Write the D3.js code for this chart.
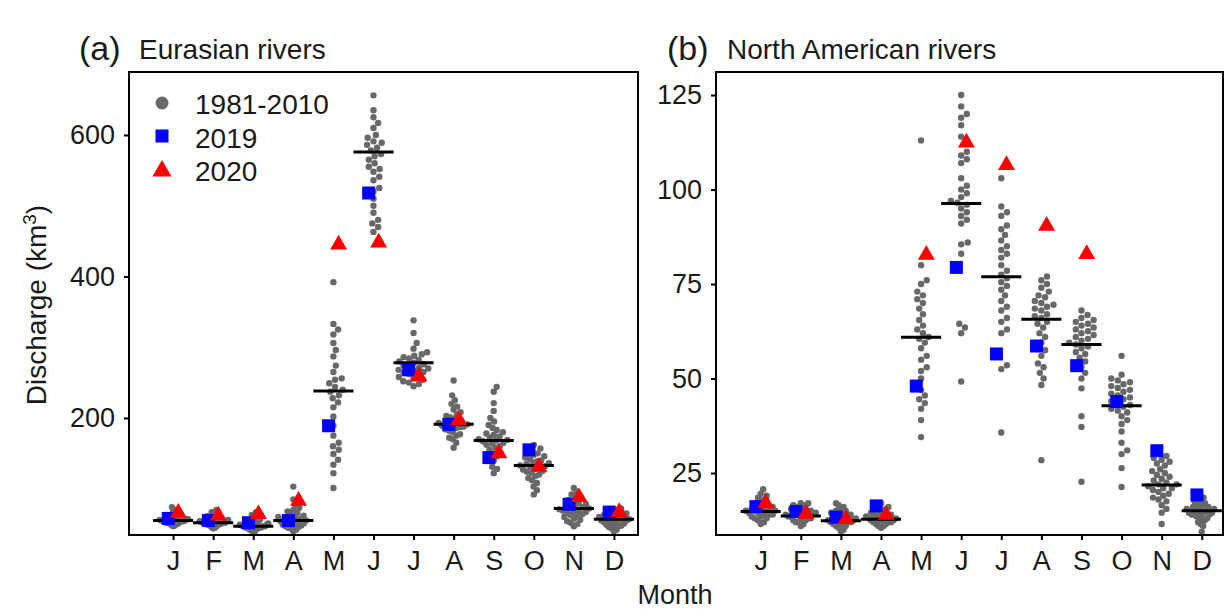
<!DOCTYPE html>
<html>
<head>
<meta charset="utf-8">
<script src="https://cdn.jsdelivr.net/npm/d3@7"></script>
<style>
  body { margin: 0; background: #fff; }
  text { font-family: "Liberation Sans", Arial, sans-serif; fill: #1a1a1a; }
</style>
</head>
<body>
<svg id="chart" width="1226" height="609"></svg>
<script>
// month labels
var months = ['J', 'F', 'M', 'A', 'M', 'J', 'J', 'A', 'S', 'O', 'N', 'D'];

// (a) Eurasian rivers, 1981-2010 monthly values (km3), one list per month
var euClim = [
  [47, 48, 49, 50, 50, 51, 52, 52, 53, 53, 54, 54, 55, 55, 55, 56, 56, 57, 57, 58, 58, 59, 60, 61, 62, 63, 65, 67, 70, 74],
  [44, 45, 46, 47, 48, 49, 49, 50, 50, 51, 51, 52, 52, 52, 53, 53, 54, 54, 55, 55, 56, 57, 58, 59, 60, 61, 63, 65, 67, 70],
  [38, 40, 41, 42, 43, 44, 44, 45, 45, 46, 46, 47, 47, 47, 48, 48, 49, 49, 50, 50, 51, 52, 53, 54, 55, 56, 58, 60, 63, 67],
  [40, 42, 44, 45, 46, 47, 48, 49, 50, 51, 52, 53, 54, 55, 55, 56, 57, 58, 59, 60, 61, 62, 64, 66, 68, 70, 73, 77, 85, 103],
  [101, 122, 134, 141, 149, 155, 160, 165, 175, 189, 202, 215, 222, 228, 232, 237, 240, 244, 249, 254, 256, 265, 274, 287, 296, 306, 318, 325, 333, 392],
  [463, 470, 475, 480, 490, 500, 510, 520, 525, 536, 541, 548, 552, 555, 560, 565, 570, 573, 578, 582, 586, 589, 591, 596, 600, 610, 617, 625, 635, 656],
  [245, 248, 250, 252, 254, 256, 258, 260, 262, 264, 265, 267, 268, 270, 271, 272, 274, 276, 278, 280, 282, 284, 286, 288, 290, 293, 298, 306, 320, 338],
  [158, 165, 170, 172, 175, 177, 180, 182, 184, 186, 187, 188, 189, 190, 191, 192, 193, 195, 197, 199, 201, 203, 205, 208, 212, 216, 220, 225, 232, 253],
  [122, 128, 131, 140, 146, 150, 155, 158, 160, 162, 164, 165, 167, 168, 169, 170, 172, 174, 176, 178, 180, 183, 186, 190, 195, 200, 210, 221, 237, 244],
  [92, 98, 103, 108, 112, 115, 118, 120, 122, 124, 125, 127, 128, 130, 131, 132, 133, 135, 136, 137, 139, 140, 142, 144, 146, 148, 150, 153, 157, 162],
  [47, 50, 52, 54, 56, 58, 60, 62, 63, 64, 66, 67, 68, 69, 70, 71, 72, 73, 74, 75, 77, 78, 80, 82, 84, 86, 88, 92, 96, 101],
  [40, 42, 44, 46, 47, 48, 49, 50, 51, 52, 53, 54, 55, 55, 56, 57, 57, 58, 59, 60, 60, 61, 62, 63, 64, 65, 66, 68, 70, 72]
];
var euMean = [55, 52, 47, 55, 238, 576, 278, 191, 168, 133, 72, 57];
var eu2019 = [58, 55, 52, 55, 189, 518, 268, 191, 144, 155, 78, 67];
var eu2020 = [66, 62, 64, 83, 445, 448, 259, 197, 150, 131, 88, 67];
var euTicks = [200, 400, 600];

// (b) North American rivers
var naClim = [
  [11.5, 12, 12.5, 13, 13, 13.5, 13.5, 14, 14, 14, 14.5, 14.5, 15, 15, 15, 15, 15.5, 15.5, 16, 16, 16, 16.5, 17, 17, 17.5, 18, 18.5, 19, 19.5, 20.7],
  [11, 11.5, 12, 12, 12.5, 12.5, 13, 13, 13, 13.5, 13.5, 13.5, 14, 14, 14, 14, 14.5, 14.5, 14.5, 15, 15, 15, 15.5, 15.5, 16, 16, 16.5, 16.5, 17, 17],
  [9.5, 10, 10.5, 11, 11, 11.5, 11.5, 12, 12, 12, 12, 12.5, 12.5, 12.5, 13, 13, 13, 13.5, 13.5, 14, 14, 14, 14.5, 14.5, 15, 15, 15.5, 16, 16.5, 17],
  [10.5, 11, 11, 11.5, 11.5, 12, 12, 12, 12.5, 12.5, 12.5, 13, 13, 13, 13, 13.5, 13.5, 13.5, 14, 14, 14, 14.5, 14.5, 15, 15, 15.5, 15.5, 16, 16, 17],
  [34.5, 39, 42, 43.5, 44.5, 45.5, 47, 50, 52, 53, 55, 56, 58, 59.5, 60.5, 61, 62, 63, 64, 65.5, 67, 68.5, 70, 71, 72, 73, 75, 76, 80, 113],
  [49.2, 62, 63.5, 64.5, 83, 85.5, 86, 91, 92, 93, 94, 95, 96, 96.5, 97, 98, 99, 100, 101, 103, 107, 108, 109, 110, 114, 117, 119, 120, 122, 125],
  [35.7, 52.5, 53.5, 62, 63, 65, 66, 68, 69, 70.5, 72, 73.5, 74.5, 75.5, 76.5, 77.5, 78.5, 80, 82, 83, 84, 85, 86.5, 88, 89.5, 90.5, 93, 94, 95.5, 103],
  [28.4, 48.3, 50, 51.5, 53, 54, 56, 57.5, 59.5, 61, 62, 63.5, 64.5, 65, 66, 66.5, 67, 68, 68.5, 69, 69.5, 70, 70.5, 71.5, 72, 73, 74, 75, 76, 77],
  [22.7, 37.2, 40, 47.4, 50, 51.5, 53, 54.5, 55.5, 56.5, 57, 58, 58.5, 59, 59.5, 60, 60.5, 61, 61.5, 62, 62.5, 63, 63.5, 64, 64.5, 65, 65.5, 66, 66.8, 68],
  [21.3, 26.3, 30, 31, 33, 36, 38, 39, 40, 41, 41.5, 42, 42.5, 43, 43.5, 44, 44.5, 45, 45.5, 46, 46.5, 47, 47.5, 48, 48.5, 49, 49.5, 50, 51, 56],
  [11.5, 14.5, 15.5, 16.5, 17.5, 18, 18.5, 19, 19.5, 20, 20.5, 21, 21, 21.5, 22, 22, 22.5, 23, 23.5, 24, 24.5, 25, 25.5, 26, 27, 27.5, 28, 28.5, 29, 29.5],
  [9.5, 11, 11.5, 12, 12.5, 13, 13, 13.5, 13.5, 14, 14, 14, 14.5, 14.5, 14.5, 15, 15, 15, 15.5, 15.5, 15.5, 16, 16, 16.5, 16.5, 17, 17, 17.5, 18, 18.5]
];
var naMean = [14.8, 13.6, 12.4, 12.8, 60.9, 96.3, 76.9, 65.7, 59, 42.8, 21.8, 15];
var na2019 = [16.1, 14.8, 13.3, 16.3, 48, 79.4, 56.5, 58.6, 53.4, 43.9, 30.9, 19.2];
var na2020 = [17, 14.2, 12.8, 13.9, 82.7, 112.4, 106.5, 90.4, 82.9, null, null, null];
var naTicks = [25, 50, 75, 100, 125];

var svg = d3.select('#chart');
svg.append('rect').attr('width', 1226).attr('height', 609).attr('fill', '#fff');

var dotR = 3.2;
var maxSpread = 15; // px, dense months get squeezed so dots overlap

// simple beeswarm: offsets in px so dots in one month don't overlap
var swarm = function(values, y) {
  var order = values.map(function(v, i) { return i; })
                    .sort(function(a, b) { return values[a] - values[b]; });
  var placed = [];
  var offs = [];
  var d = dotR * 2 + 0.4;
  order.forEach(function(i) {
    var py = y(values[i]);
    var near = placed.filter(function(p) { return Math.abs(p.y - py) < d; });
    var cands = [0];
    near.forEach(function(p) {
      var dx = Math.sqrt(d * d - (p.y - py) * (p.y - py));
      cands.push(p.x + dx, p.x - dx);
    });
    cands.sort(function(a, b) { return Math.abs(a) - Math.abs(b); });
    var px = cands.find(function(c) {
      return near.every(function(p) { return (p.x - c) * (p.x - c) + (p.y - py) * (p.y - py) >= d * d - 0.01; });
    });
    placed.push({ x: px, y: py });
    offs[i] = px;
  });
  var widest = d3.max(offs, function(o) { return Math.abs(o); });
  if (widest > maxSpread) {
    offs = offs.map(function(o) { return o * maxSpread / widest; });
  }
  return offs;
};

var drawPanel = function(p) {
  var x = d3.scaleLinear().domain(p.xDomain).range([p.left, p.right]);
  var y = d3.scaleLinear().domain(p.yDomain).range([p.bottom, p.top]);
  var g = svg.append('g');

  // climatology dots
  p.clim.forEach(function(vals, m) {
    var offs = swarm(vals, y);
    g.append('g').selectAll('circle').data(vals)
      .enter().append('circle')
      .attr('cx', function(d, i) { return x(m + 1) + offs[i]; })
      .attr('cy', function(d) { return y(d); })
      .attr('r', dotR)
      .style('fill', '#686868');
  });

  // 1981-2010 average
  g.append('g').selectAll('line').data(p.mean)
    .enter().append('line')
    .attr('x1', function(d, i) { return x(i + 1 - 0.5); })
    .attr('x2', function(d, i) { return x(i + 1 + 0.5); })
    .attr('y1', function(d) { return y(d); })
    .attr('y2', function(d) { return y(d); })
    .style('stroke', '#000').style('stroke-width', 3);

  // 2019
  g.append('g').selectAll('path').data(p.y2019)
    .enter().append('path')
    .attr('d', d3.symbol().type(d3.symbolSquare).size(169))
    .attr('transform', function(d, i) { return 'translate(' + x(i + 1 - 0.12) + ',' + y(d) + ')'; })
    .style('fill', '#0000ff');

  // 2020
  g.append('g').selectAll('path').data(p.y2020.map(function(v, i) { return { v: v, i: i }; })
      .filter(function(d) { return d.v !== null; }))
    .enter().append('path')
    .attr('d', d3.symbol().type(d3.symbolTriangle).size(125))
    .attr('transform', function(d) { return 'translate(' + x(d.i + 1 + 0.13) + ',' + y(d.v) + ')'; })
    .style('fill', '#ff0000');

  // frame
  g.append('rect')
    .attr('x', p.left).attr('y', p.top)
    .attr('width', p.right - p.left).attr('height', p.bottom - p.top)
    .style('fill', 'none').style('stroke', '#000').style('stroke-width', 2);

  var yAxis = g.append('g').attr('transform', 'translate(' + p.left + ',0)')
    .call(d3.axisLeft(y).tickValues(p.ticks).tickSize(5).tickPadding(9));
  var xAxis = g.append('g').attr('transform', 'translate(0,' + p.bottom + ')')
    .call(d3.axisBottom(x).tickValues(d3.range(1, 13))
      .tickFormat(function(d) { return months[d - 1]; })
      .tickSize(5).tickPadding(11));
  [yAxis, xAxis].forEach(function(a) {
    a.select('.domain').remove();
    a.selectAll('line').style('stroke', '#000').style('stroke-width', 2);
    a.selectAll('text').style('font-size', '27px')
      .style('font-family', '"Liberation Sans", Arial, sans-serif').style('fill', '#1a1a1a');
  });

  svg.append('text').attr('x', p.tagX).attr('y', 60).style('font-size', '34px').text(p.tag);
  svg.append('text').attr('x', p.titleX).attr('y', 59).style('font-size', '28px').text(p.title);
};

drawPanel({
  left: 129, right: 638, top: 72, bottom: 535,
  xDomain: [-0.1, 12.6], yDomain: [34.6, 689],
  ticks: euTicks, clim: euClim, mean: euMean, y2019: eu2019, y2020: eu2020,
  tag: '(a)', tagX: 79, title: 'Eurasian rivers', titleX: 139
});
drawPanel({
  left: 716, right: 1223, top: 72, bottom: 535,
  xDomain: [-0.115, 12.53], yDomain: [8.6, 131.1],
  ticks: naTicks, clim: naClim, mean: naMean, y2019: na2019, y2020: na2020,
  tag: '(b)', tagX: 667, title: 'North American rivers', titleX: 727
});

// legend in panel (a)
var legend = svg.append('g');
legend.append('circle').attr('cx', 162).attr('cy', 103).attr('r', 6.5).style('fill', '#686868');
legend.append('path').attr('d', d3.symbol().type(d3.symbolSquare).size(169))
  .attr('transform', 'translate(162,136)').style('fill', '#0000ff');
legend.append('path').attr('d', d3.symbol().type(d3.symbolTriangle).size(160))
  .attr('transform', 'translate(162,171)').style('fill', '#ff0000');
['1981-2010', '2019', '2020'].forEach(function(t, i) {
  legend.append('text').attr('x', 195).attr('y', 114 + i * 33.5).style('font-size', '28px').text(t);
});

// axis titles
var yt = svg.append('text').attr('transform', 'translate(46,305) rotate(-90)')
  .attr('text-anchor', 'middle').style('font-size', '28px');
yt.append('tspan').text('Discharge (km');
yt.append('tspan').attr('baseline-shift', 'super').style('font-size', '19px').text('3');
yt.append('tspan').text(')');

svg.append('text').attr('x', 675).attr('y', 604).attr('text-anchor', 'middle')
  .style('font-size', '27px').text('Month');
</script>
</body>
</html>
